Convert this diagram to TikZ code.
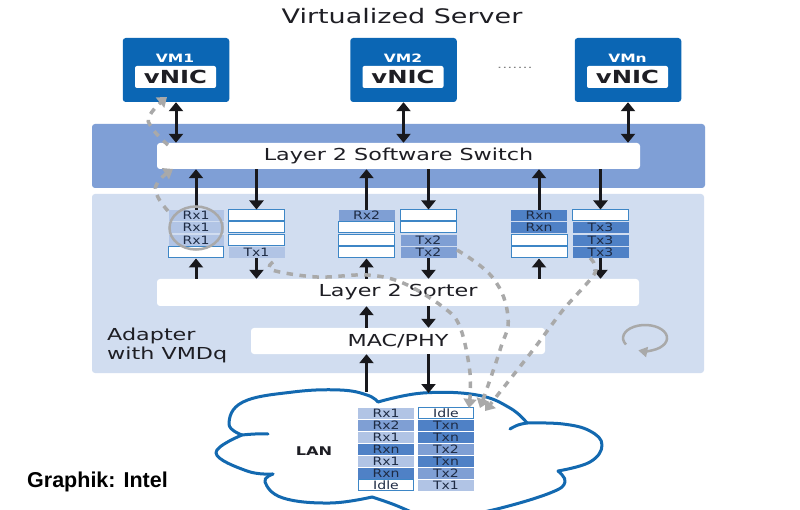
\documentclass[tikz,border=0pt]{standalone}
\usepackage{fontspec}
\usepackage{graphicx}
\setmainfont{DejaVu Sans}
\newfontfamily\graphikfont{Liberation Sans}
\usetikzlibrary{arrows.meta,shapes.geometric,calc}
\definecolor{vmblue}{HTML}{0B66B4}
\definecolor{cloudblue}{HTML}{1369B0}
\definecolor{bandblue}{HTML}{7F9FD6}
\definecolor{adapterblue}{HTML}{D1DDF0}
\definecolor{qlight}{HTML}{B1C4E5}
\definecolor{qmid}{HTML}{7F9FD4}
\definecolor{qdark}{HTML}{4F81C6}
\definecolor{qedge}{HTML}{3D86C6}
\definecolor{inktext}{HTML}{1E1E24}
\definecolor{celltext}{HTML}{1E2B44}
\definecolor{dashgray}{HTML}{A9A9A9}
\definecolor{arrowink}{HTML}{18181C}
\newcommand{\wtxt}[2][1.35]{\scalebox{#1}[1]{#2}}
\newcommand{\qcell}[6]{\node[cellbox,#1,minimum width=#6pt] (#2) at (#3,#4) {\wtxt[1.22]{#5}};}
\tikzset{
  vmbox/.style={fill=vmblue,rounded corners=3pt,minimum width=106.5pt,minimum height=64pt,inner sep=0pt},
  nicbox/.style={fill=white,rounded corners=2pt,minimum width=81pt,minimum height=22pt,inner sep=0pt,text=inktext,font=\fontsize{18}{18}\selectfont\bfseries},
  vmlabel/.style={text=white,inner sep=0pt,font=\fontsize{11.5}{12}\selectfont\bfseries},
  whitebar/.style={fill=white,rounded corners=3pt,inner sep=0pt,text=inktext,font=\fontsize{16.5}{17}\selectfont},
  cellbox/.style={minimum height=11pt,inner sep=0pt,text=celltext,font=\fontsize{11.5}{11}\selectfont},
  qempty/.style={fill=white,draw=qedge,line width=1pt},
  ql/.style={fill=qlight},
  qm/.style={fill=qmid},
  qd/.style={fill=qdark},
  link/.style={draw=arrowink,line width=3pt,-{Triangle[width=14pt,length=9pt]}},
  biglink/.style={draw=arrowink,line width=3pt,{Triangle[width=14pt,length=9pt]}-{Triangle[width=14pt,length=9pt]}},
  gdash/.style={draw=dashgray,line width=3.5pt,dash pattern=on 6.5pt off 6.5pt,-{Triangle[width=13pt,length=9pt]}},
  cloudline/.style={draw=cloudblue,line width=3pt,line cap=round,line join=round}
}
\begin{document}
\begin{tikzpicture}[x=1pt,y=-1pt]
\useasboundingbox (0,0) rectangle (800,510);
\fill[white] (0,0) rectangle (800,510);

\node[inner sep=0pt,text=inktext,font=\fontsize{20}{20}\selectfont] (title) at (402,16) {\wtxt[1.35]{Virtualized Server}};

% VMs
\node[vmbox] (vm1) at (176,70) {};
\node[vmbox] (vm2) at (403.5,70) {};
\node[vmbox] (vmn) at (628,70) {};
\node[nicbox] (nic1) at (175.5,77) {\wtxt{vNIC}};
\node[nicbox] (nic2) at (403,77) {\wtxt{vNIC}};
\node[nicbox] (nicn) at (627.5,77) {\wtxt{vNIC}};
\node[vmlabel] (vl1) at (175,58) {\wtxt{VM1}};
\node[vmlabel] (vl2) at (403,58) {\wtxt{VM2}};
\node[vmlabel] (vln) at (627.5,58) {\wtxt{VMn}};
\node[inner sep=0pt,text=gray,font=\fontsize{10}{10}\selectfont] (dots) at (515,68) {\wtxt[1.6]{.......}};

% Panels
\node[fill=bandblue,rounded corners=3pt,minimum width=613pt,minimum height=64pt,inner sep=0pt] (band) at (398.5,156) {};
\node[fill=adapterblue,rounded corners=3pt,minimum width=612pt,minimum height=179pt,inner sep=0pt] (adapter) at (398,283.5) {};
\node[whitebar,minimum width=483pt,minimum height=26pt] (switch) at (398.5,156) {\wtxt{Layer 2 Software Switch}};
\node[whitebar,minimum width=482pt,minimum height=27pt] (sorter) at (398,292.5) {\wtxt{Layer 2 Sorter}};
\node[whitebar,minimum width=294pt,minimum height=26pt] (mac) at (398,341) {\wtxt{MAC/PHY}};
\node[inner sep=0pt,text=inktext,font=\fontsize{16.5}{19}\selectfont,align=left,anchor=west] (adlabel) at (107,345.5) {\wtxt{Adapter}\\\wtxt{with VMDq}};

% Queues
\qcell{ql}{a1}{196}{215.5}{Rx1}{55}
\qcell{ql}{a2}{196}{227.5}{Rx1}{55}
\qcell{ql}{a3}{196}{240.5}{Rx1}{55}
\qcell{qempty}{a4}{196}{252.5}{}{55}
\qcell{qempty}{b1}{256.5}{215.5}{}{56}
\qcell{qempty}{b2}{256.5}{227.5}{}{56}
\qcell{qempty}{b3}{256.5}{240.5}{}{56}
\qcell{ql}{b4}{256.5}{252.5}{Tx1}{56}
\qcell{qm}{c1}{366.5}{215.5}{Rx2}{56}
\qcell{qempty}{c2}{366.5}{227.5}{}{56}
\qcell{qempty}{c3}{366.5}{240.5}{}{56}
\qcell{qempty}{c4}{366.5}{252.5}{}{56}
\qcell{qempty}{d1}{428.5}{215.5}{}{56}
\qcell{qempty}{d2}{428.5}{227.5}{}{56}
\qcell{qm}{d3}{428.5}{240.5}{Tx2}{56}
\qcell{qm}{d4}{428.5}{252.5}{Tx2}{56}
\qcell{qd}{e1}{539}{215.5}{Rxn}{56}
\qcell{qd}{e2}{539}{227.5}{Rxn}{56}
\qcell{qempty}{e3}{539}{240.5}{}{56}
\qcell{qempty}{e4}{539}{252.5}{}{56}
\qcell{qempty}{f1}{600.5}{215.5}{}{56}
\qcell{qd}{f2}{600.5}{227.5}{Tx3}{56}
\qcell{qd}{f3}{600.5}{240.5}{Tx3}{56}
\qcell{qd}{f4}{600.5}{252.5}{Tx3}{56}

% Rotary icon
\draw[draw=dashgray,line width=2.5pt,-{Triangle[width=10pt,length=9pt]}] (626,344.5) arc[start angle=570,end angle=252,x radius=22pt,y radius=13pt];

% Cloud
\begin{scope}
\clip (0,0) rectangle (800,510);
\draw[cloudline] plot[smooth,tension=.7] coordinates {(268,434) (255,434) (242,435)};
\draw[cloudline] plot[smooth,tension=.7] coordinates {(242,435) (229,424) (243,402) (293,392) (340,390) (367,395) (378,402)};
\draw[cloudline] plot[smooth,tension=.7] coordinates {(378,402) (423,393) (477,395) (510,408) (527,423)};
\draw[cloudline] plot[smooth,tension=.7] coordinates {(510,429) (518,425) (527,423)};
\draw[cloudline] plot[smooth,tension=.7] coordinates {(527,423) (563,424) (590,431) (602,445) (590,462) (558,471)};
\draw[cloudline] plot[smooth,tension=.7] coordinates {(558,471) (565,482) (550,493) (497,509) (450,518)};
\draw[cloudline] plot[smooth,tension=.7] coordinates {(420,516) (395,505) (372,497)};
\draw[cloudline] plot[smooth,tension=.7] coordinates {(372,497) (330,503) (283,498) (265,482) (273,474)};
\draw[cloudline] plot[smooth,tension=.7] coordinates {(273,474) (247,471) (216,453) (242,435)};
\end{scope}
\coordinate (lanup) at (367,392);
\coordinate (landown) at (428,393);
\node[inner sep=0pt,text=inktext,font=\fontsize{12}{12}\selectfont\bfseries] (lan) at (314,451.5) {\wtxt{LAN}};

% LAN table
\qcell{ql}{l1}{386}{413}{Rx1}{56}
\qcell{qm}{l2}{386}{425}{Rx2}{56}
\qcell{ql}{l3}{386}{437}{Rx1}{56}
\qcell{qd}{l4}{386}{449}{Rxn}{56}
\qcell{ql}{l5}{386}{461}{Rx1}{56}
\qcell{qd}{l6}{386}{473}{Rxn}{56}
\qcell{qempty}{l7}{386}{485}{Idle}{55}
\qcell{qempty}{r1}{446}{413}{Idle}{55}
\qcell{qd}{r2}{446}{425}{Txn}{56}
\qcell{qd}{r3}{446}{437}{Txn}{56}
\qcell{qm}{r4}{446}{449}{Tx2}{56}
\qcell{qd}{r5}{446}{461}{Txn}{56}
\qcell{qm}{r6}{446}{473}{Tx2}{56}
\qcell{ql}{r7}{446}{485}{Tx1}{56}

% Connectors
\draw[biglink] (vm1.south) -- (vm1.south |- switch.north);
\draw[biglink] (vm2.south) -- (vm2.south |- switch.north);
\draw[biglink] (vmn.south) -- (vmn.south |- switch.north);
\draw[link] (a1.north) -- (a1.north |- switch.south);
\draw[link] (switch.south -| b1.north) -- (b1.north);
\draw[link] (c1.north) -- (c1.north |- switch.south);
\draw[link] (switch.south -| d1.north) -- (d1.north);
\draw[link] (e1.north) -- (e1.north |- switch.south);
\draw[link] (switch.south -| f1.north) -- (f1.north);
\draw[link] (sorter.north -| a4.south) -- (a4.south);
\draw[link] (b4.south) -- (b4.south |- sorter.north);
\draw[link] (sorter.north -| c4.south) -- (c4.south);
\draw[link] (d4.south) -- (d4.south |- sorter.north);
\draw[link] (sorter.north -| e4.south) -- (e4.south);
\draw[link] (f4.south) -- (f4.south |- sorter.north);
\draw[link] (mac.north -| c4.south) -- (sorter.south -| c4.south);
\draw[link] (sorter.south -| d4.south) -- (mac.north -| d4.south);
\draw[link] (lanup -| c4.south) -- (mac.south -| c4.south);
\draw[link] (mac.south -| d4.south) -- (landown -| d4.south);

% Circle around Rx1
\node[draw=dashgray,line width=2.5pt,ellipse,minimum width=53pt,minimum height=43pt,inner sep=0pt] (ring) at (196,228) {};

% Dashed flows
\coordinate (ring1) at (168,211);
\coordinate (sw1) at (173,169);
\coordinate (sw2) at (168,145);
\coordinate (nic1b) at (167,97);
\coordinate (tx1o) at (273,262);
\coordinate (tx2o) at (457,250);
\coordinate (tx3o) at (590,258);
\coordinate (idleA) at (469,408);
\coordinate (idleB) at (480,408);
\coordinate (idleC) at (485,411);
\draw[gdash] plot[smooth,tension=.8] coordinates {(ring1) (157,195) (158,182) (sw1)};
\draw[gdash] plot[smooth,tension=.8] coordinates {(sw2) (152,128) (150,115) (nic1b)};
\draw[gdash] plot[smooth,tension=.6] coordinates {(tx1o) (272,270) (317,277) (367,275) (403,283) (443,307) (460,327) (470,373) (idleA)};
\draw[gdash] plot[smooth,tension=.7] coordinates {(tx2o) (493,278) (508,317) (500,350) (idleB)};
\draw[gdash] plot[smooth,tension=.5] coordinates {(tx3o) (595,273) (563,310) (533,350) (idleC)};

\node[inner sep=0pt,anchor=west,text=black,font=\graphikfont\fontsize{21.5}{22}\selectfont\bfseries] (credit) at (27,482) {Graphik: Intel};
\end{tikzpicture}
\end{document}
